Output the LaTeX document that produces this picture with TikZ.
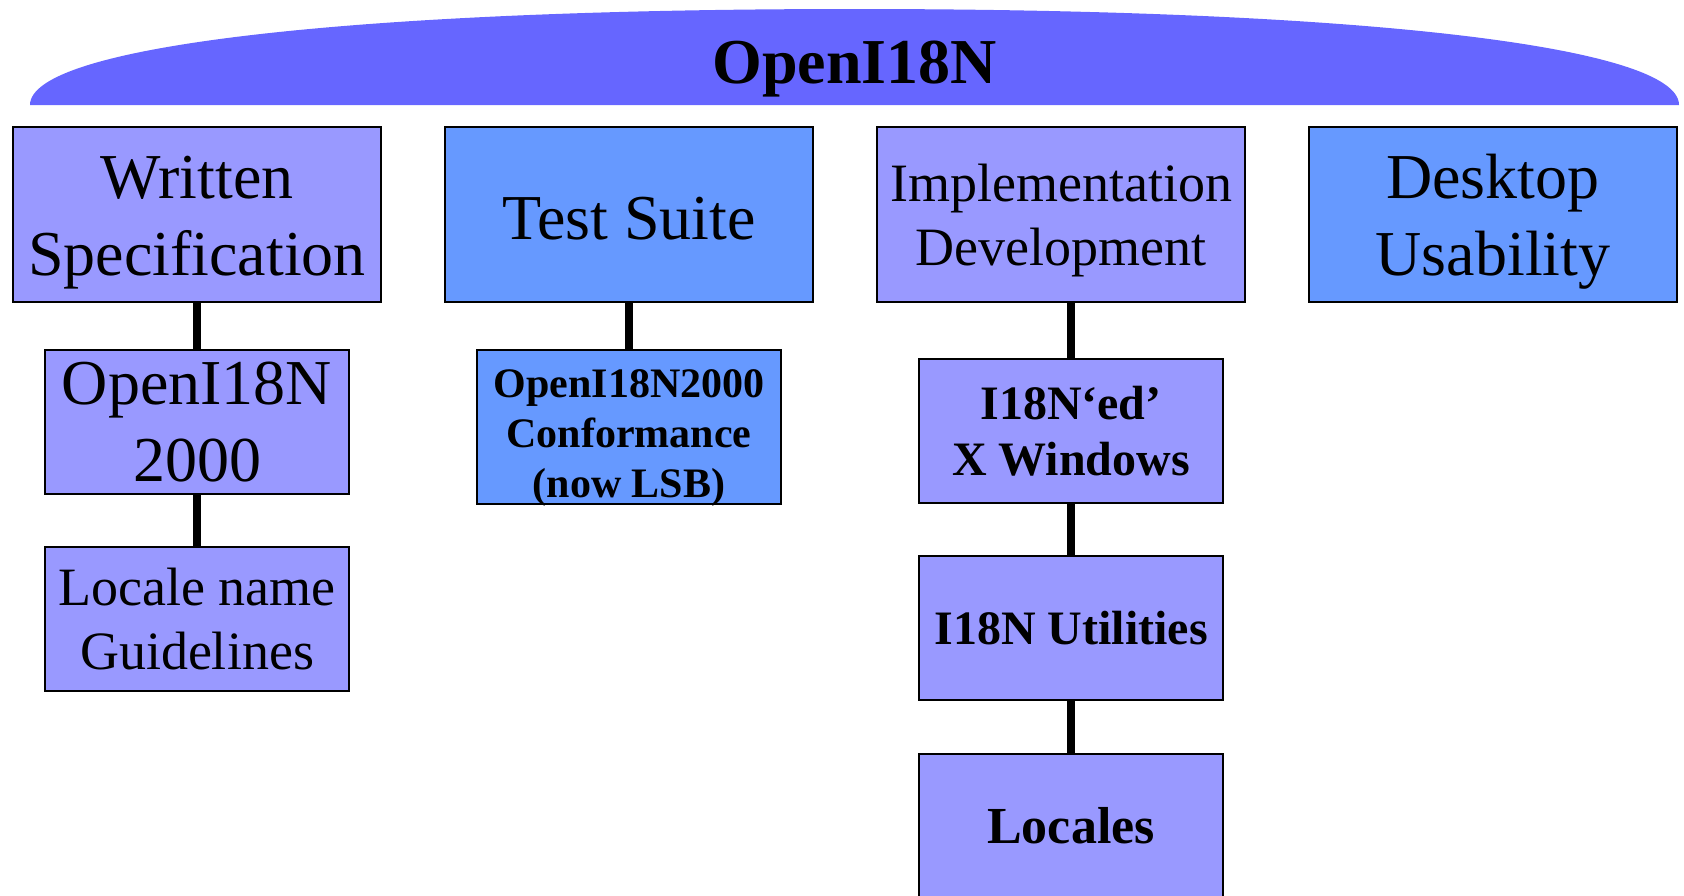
\documentclass[tikz,border=0pt]{standalone}
\usepackage{fontspec}
\setmainfont{Liberation Serif}
\usepackage{tikz}
\usetikzlibrary{positioning}
\definecolor{capblue}{HTML}{6666FF}
\definecolor{lilac}{HTML}{9999FF}
\definecolor{sky}{HTML}{6699FF}
\tikzstyle{topic}=[rectangle, draw=black, line width=1pt, text centered, align=center, anchor=north, text=black, inner sep=0pt, outer sep=0pt, minimum width=184pt, minimum height=87.5pt, font=\fontsize{32}{38.5}\selectfont]
\tikzstyle{leaf}=[topic, minimum width=152pt, minimum height=72pt]
\tikzstyle{link}=[line width=3.75pt, black]

\begin{document}
\begin{tikzpicture}[]
    \useasboundingbox (0,0) rectangle (842pt,-447.5pt);

        \fill[capblue] (15pt,-52.5pt) .. controls (15pt,-23pt) and (175pt,-4.5pt) .. (427.25pt,-4.5pt)
            .. controls (679.5pt,-4.5pt) and (839.5pt,-23pt) .. (839.5pt,-52.5pt) -- cycle;
        \node(title)[font=\bfseries\fontsize{32}{38}\selectfont] at (427.25pt,-34.5pt) {OpenI18N};

        \node(spec)[topic, fill=lilac, anchor=north west, text height=68.3pt] at (6.5pt,-63.5pt) {Written\\Specification};
        \node(suite)[topic, fill=sky, right=32pt of spec, text height=25.2pt] {Test Suite};
        \node(impl)[topic, fill=lilac, right=32pt of suite, text height=56.8pt, font=\fontsize{27}{32}\selectfont] {Implementation\\Development};
        \node(desk)[topic, fill=sky, right=32pt of impl, text height=68pt] {Desktop\\Usability};

        \node(oi2000)[leaf, fill=lilac, below=24pt of spec] {OpenI18N\\2000};
        \node(naming)[leaf, fill=lilac, below=26.5pt of oi2000, font=\fontsize{27}{32}\selectfont] {Locale name\\Guidelines};

        \node(conform)[leaf, fill=sky, below=24pt of suite, minimum height=77pt, text height=70.4pt, text depth=0pt, font=\bfseries\fontsize{21}{25}\selectfont] {OpenI18N2000\\Conformance\\(now LSB)};

        \node(xwin)[leaf, fill=lilac, below=28.5pt of impl, xshift=5pt, font=\bfseries\fontsize{24}{28}\selectfont] {I18N‘ed’\\X Windows};
        \node(utils)[leaf, fill=lilac, below=26.5pt of xwin, font=\bfseries\fontsize{24}{28}\selectfont] {I18N Utilities};
        \node(locales)[leaf, fill=lilac, below=27pt of utils, font=\bfseries\fontsize{26}{31}\selectfont] {Locales};

        \draw[link] (spec) -- (oi2000);
        \draw[link] (oi2000) -- (naming);
        \draw[link] (suite) -- (conform);
        \draw[link] (xwin) -- (xwin |- impl.south);
        \draw[link] (xwin) -- (utils);
        \draw[link] (utils) -- (locales);

    \end{tikzpicture}
\end{document}
